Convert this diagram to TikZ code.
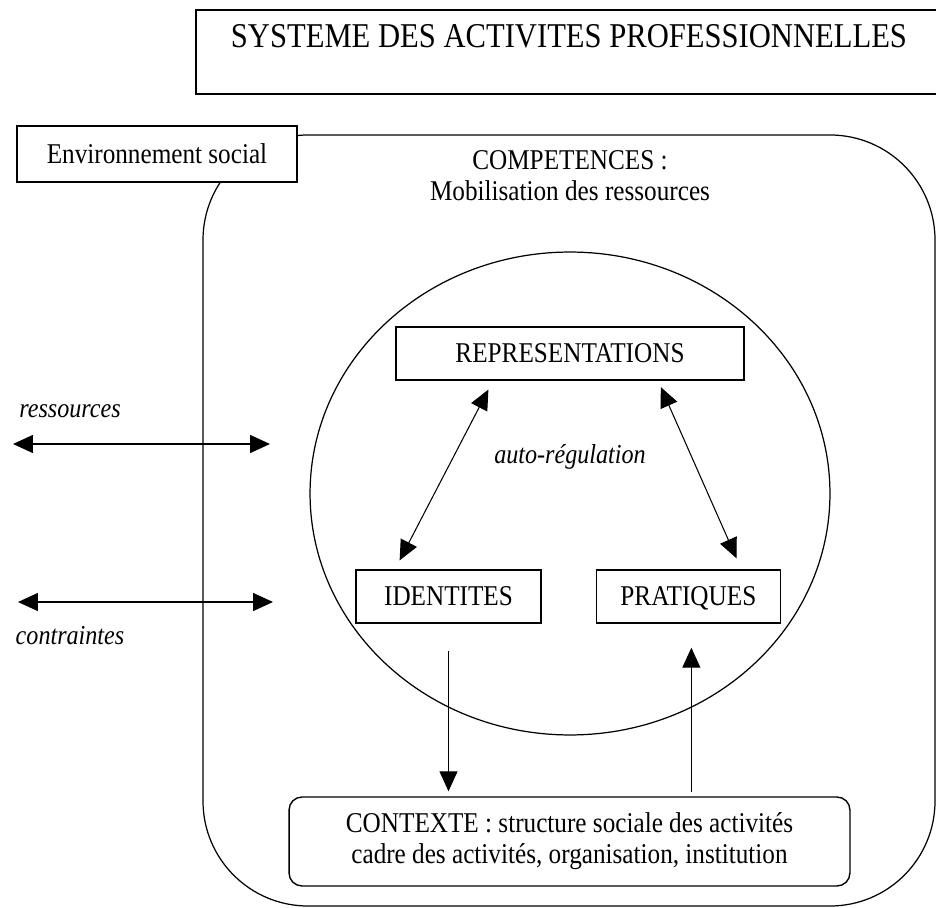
\documentclass[tikz,border=0pt]{standalone}
\usepackage{fontspec}
\setmainfont{Liberation Serif}[FakeStretch=0.88]
\usetikzlibrary{arrows.meta, positioning, calc}

\begin{document}
\begin{tikzpicture}[
  x=0.02cm, y=-0.02cm,
  font=\fontsize{16.3}{17.5}\selectfont,
  concept/.style={rectangle, draw, line width=0.8pt, fill=white, 
                  minimum height=1.06cm, inner sep=0pt, align=center},
  oneline/.style={text depth=0pt},
  italictext/.style={font=\fontsize{15.6}{17.5}\selectfont\itshape, inner sep=0pt},
  arrow/.style={-{Triangle[length=4mm, width=3.6mm]}, line width=0.6pt},
  darrow/.style={{Triangle[length=4mm, width=3.6mm]}-{Triangle[length=4mm, width=3.6mm]}, line width=0.6pt}
]
  \useasboundingbox (0,0) rectangle (936,908);

  % titre, cadre ouvert a droite
  \draw[line width=0.8pt] (936,10) -- (196,10) -- (196,94) -- (936,94);
  \node[anchor=base, inner sep=0pt, font=\fontsize{19.8}{24}\selectfont] (titre) at (569,48) {SYSTEME DES ACTIVITES PROFESSIONNELLES};

  % systeme et environnement
  \draw[line width=0.7pt, rounded corners=2.1cm] (203,135) rectangle (935,906);
  \node[concept, oneline, minimum width=5.6cm, minimum height=1.12cm] (env) at (157,154) {Environnement social};
  \node[anchor=north, inner sep=0pt, align=center] (comp) at (570,150) {COMPETENCES :\\Mobilisation des ressources};
  \draw[line width=0.7pt] (570,493.5) ellipse [x radius=5.2cm, y radius=4.83cm];

  % triangle interne
  \node[concept, oneline, minimum width=6.96cm] (repr) at (570,353.5) {REPRESENTATIONS};
  \node[concept, oneline, minimum width=3.7cm] (ident) at (448.5,596.5) {IDENTITES};
  \node[concept, oneline, minimum width=3.68cm, right=1.08cm of ident] (prat) {PRATIQUES};
  \node[italictext, anchor=base] (autoreg) at (570,463) {auto-régulation};

  \node[concept, rounded corners=0.26cm, minimum width=11.22cm, minimum height=1.78cm] (ctx) at (569.5,841.5)
    {CONTEXTE : structure sociale des activités\\cadre des activités, organisation, institution};

  \draw[darrow, shorten <=0.2cm, shorten >=0.2cm] ([xshift=-1.54cm]repr.south) -- ([xshift=-1.07cm]ident.north);
  \draw[darrow, shorten <=0.14cm, shorten >=0.24cm] ([xshift=1.76cm]repr.south) -- ([xshift=1.06cm]prat.north);
  \draw[arrow, shorten <=0.54cm, shorten >=0.1cm] (ident.south) -- (ident.south |- ctx.north);
  \draw[arrow, shorten <=0.08cm, shorten >=0.48cm] ([xshift=0.06cm]prat.south |- ctx.north) -- ([xshift=0.06cm]prat.south);

  % echanges avec l'environnement
  \node[italictext, anchor=base] (ress) at (70,418) {ressources};
  \node[italictext, anchor=base] (contr) at (70,644) {contraintes};
  \coordinate (resG) at (13,444);
  \coordinate (resD) at (270,444);
  \coordinate (conG) at (18,602);
  \coordinate (conD) at (273,602);
  \draw[darrow, line width=0.9pt] (resG) -- (resD);
  \draw[darrow, line width=0.9pt] (conG) -- (conD);
\end{tikzpicture}
\end{document}
